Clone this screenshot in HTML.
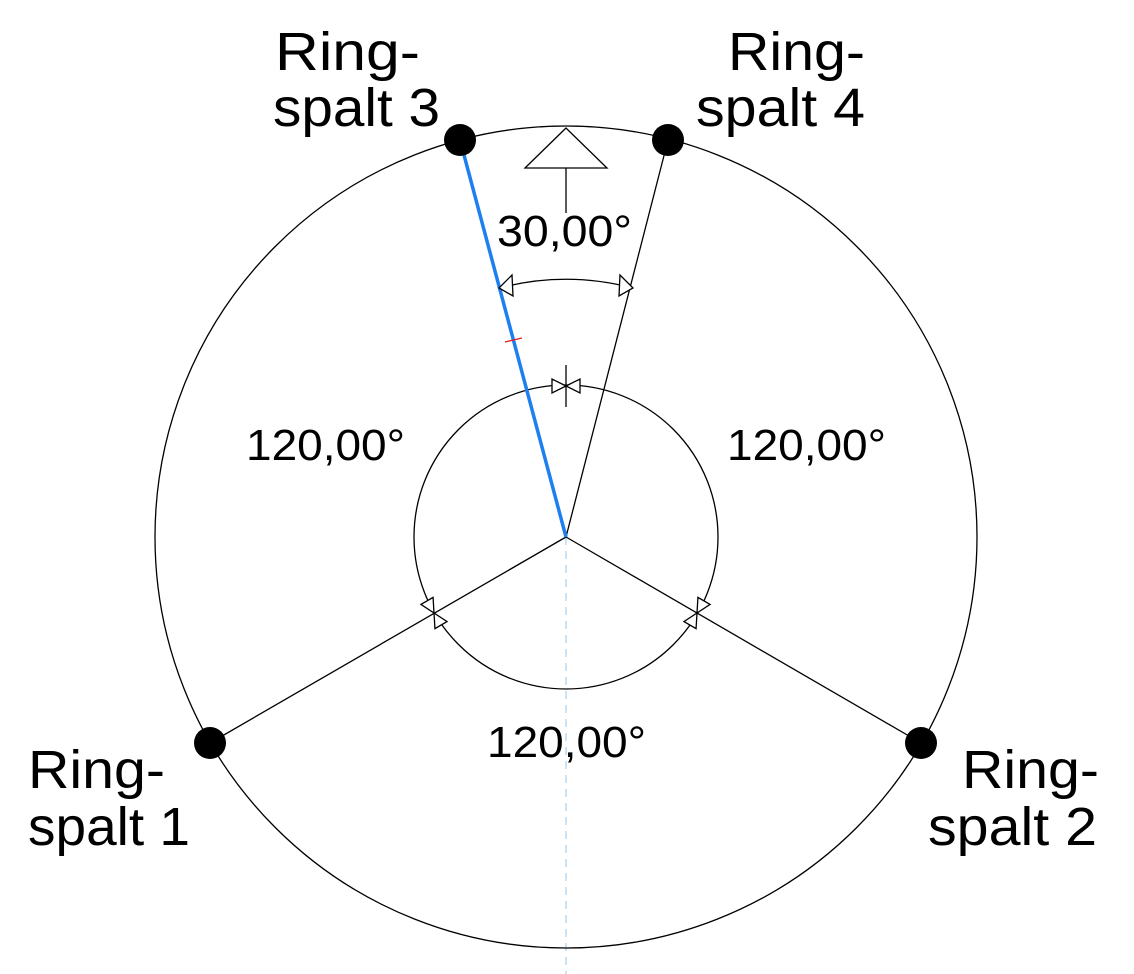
<!DOCTYPE html>
<html><head><meta charset="utf-8"><style>
html,body{margin:0;padding:0;background:#fff;}
svg{display:block;}
text{font-family:"Liberation Sans",Arial,sans-serif;fill:#000;}
</style></head><body>
<svg width="1134" height="974" viewBox="0 0 1134 974" xmlns="http://www.w3.org/2000/svg">
<defs>
<g id="bt"><path d="M0,0 L-14,-7 L-14,7 Z M0,0 L14,-7 L14,7 Z" fill="#fff" stroke="#000" stroke-width="1.3"/></g>
</defs>
<line x1="566" y1="537" x2="566" y2="974" stroke="#bcd8f2" stroke-width="1.5" stroke-dasharray="8,6"/>
<circle cx="566" cy="537" r="411" fill="none" stroke="#000" stroke-width="1.3"/>
<circle cx="566" cy="537" r="152" fill="none" stroke="#000" stroke-width="1.3"/>
<line x1="566" y1="537" x2="668" y2="140" stroke="#000" stroke-width="1.3"/>
<line x1="566" y1="537" x2="210" y2="743" stroke="#000" stroke-width="1.3"/>
<line x1="566" y1="537" x2="921" y2="743" stroke="#000" stroke-width="1.3"/>
<line x1="566" y1="537" x2="460" y2="140" stroke="#1e7ff0" stroke-width="3.5"/>
<line x1="505" y1="342" x2="522" y2="338" stroke="#e02020" stroke-width="1.3"/>
<path d="M566,128 L525,168 L607,168 Z" fill="#fff" stroke="#000" stroke-width="1.3"/>
<line x1="566" y1="168" x2="566" y2="213" stroke="#000" stroke-width="1.3"/>
<path d="M499.5,288 A257,257 0 0 1 632.5,288" fill="none" stroke="#000" stroke-width="1.3"/>
<path d="M499,288 L512,275 L513,296 Z" fill="#fff" stroke="#000" stroke-width="1.3"/>
<path d="M633,288 L620,275 L619,296 Z" fill="#fff" stroke="#000" stroke-width="1.3"/>
<use href="#bt" transform="translate(566,386)"/>
<line x1="566" y1="365" x2="566" y2="407" stroke="#000" stroke-width="1.3"/>
<use href="#bt" transform="translate(434,613) rotate(60)"/>
<use href="#bt" transform="translate(697,613) rotate(-60)"/>
<circle cx="460" cy="140" r="16" fill="#000"/>
<circle cx="668" cy="140" r="16" fill="#000"/>
<circle cx="210" cy="743" r="16" fill="#000"/>
<circle cx="921" cy="743" r="16" fill="#000"/>
<g font-size="54">
<text x="275" y="70" textLength="145" lengthAdjust="spacingAndGlyphs">Ring-</text>
<text x="273" y="126" textLength="167" lengthAdjust="spacingAndGlyphs">spalt 3</text>
<text x="728" y="70" textLength="137" lengthAdjust="spacingAndGlyphs">Ring-</text>
<text x="696" y="126" textLength="169" lengthAdjust="spacingAndGlyphs">spalt 4</text>
<text x="28" y="788" textLength="137" lengthAdjust="spacingAndGlyphs">Ring-</text>
<text x="28" y="845" textLength="162" lengthAdjust="spacingAndGlyphs">spalt 1</text>
<text x="962" y="788" textLength="137" lengthAdjust="spacingAndGlyphs">Ring-</text>
<text x="928" y="845" textLength="169" lengthAdjust="spacingAndGlyphs">spalt 2</text>
</g>
<g font-size="44">
<text x="497" y="246" textLength="135" lengthAdjust="spacingAndGlyphs">30,00°</text>
<text x="246" y="460" textLength="159" lengthAdjust="spacingAndGlyphs">120,00°</text>
<text x="727" y="460" textLength="159" lengthAdjust="spacingAndGlyphs">120,00°</text>
<text x="487" y="757" textLength="159" lengthAdjust="spacingAndGlyphs">120,00°</text>
</g>
</svg>
</body></html>
